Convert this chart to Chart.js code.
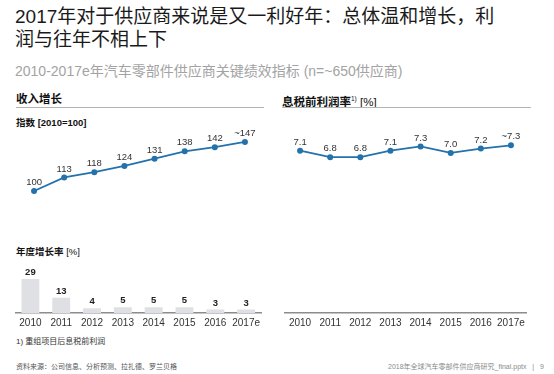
<!DOCTYPE html>
<html>
<head>
<meta charset="utf-8">
<script src="https://cdn.jsdelivr.net/npm/chart.js@4.4.1/dist/chart.umd.min.js"></script>
<style>
  body { margin: 0; background: #fff; width: 554px; height: 374px; overflow: hidden; position: relative;
         font-family: "Liberation Sans", "Noto Sans CJK SC", sans-serif; color: #222; }
  .abs { position: absolute; white-space: nowrap; }
  .title { left: 15px; top: 5px; font-size: 19px; line-height: 23px; color: #1a1a1a; }
  .subtitle { left: 15px; top: 63px; font-size: 14px; line-height: 16px; color: #a3a3a3; }
  .head { font-size: 11.5px; line-height: 14px; font-weight: bold; color: #111; }
  .rule { position: absolute; height: 0; border-top: 1.5px solid #b4b4b4; }
  .sub { font-size: 9.5px; line-height: 12px; font-weight: bold; color: #111; }
  .note { font-size: 8px; line-height: 10px; color: #333; }
  .src { font-size: 7px; line-height: 9px; color: #555; }
  canvas { position: absolute; }
</style>
</head>
<body>
<div class="abs title">2017年对于供应商来说是又一利好年：总体温和增长，利<br>润与往年不相上下</div>
<div class="abs subtitle">2010-2017e年汽车零部件供应商关键绩效指标 (n=~650供应商)</div>

<div class="abs head" style="left:16px;top:92px;">收入增长</div>
<div class="rule" style="left:16px;top:107px;width:248px;"></div>
<div class="abs sub" style="left:16px;top:117px;">指数 [2010=100]</div>
<div class="abs sub" style="left:16px;top:246px;">年度增长率 <span style="font-weight:normal">[%]</span></div>

<div class="abs head" style="left:282px;top:92px;">息税前利润率<sup style="font-size:6.5px;font-weight:normal;">1)</sup> <span style="font-weight:normal">[%]</span></div>
<div class="rule" style="left:282px;top:107px;width:249px;"></div>

<div class="abs note" style="left:16px;top:337px;">1) 重组项目后息税前利润</div>
<div class="abs src" style="left:16px;top:362px;">资料来源：公司信息、分析预测、拉扎德、罗兰贝格</div>
<div class="abs src" style="left:388px;top:362px;color:#8a8a8a;">2018年全球汽车零部件供应商研究_final.pptx&nbsp;&nbsp;&nbsp;|&nbsp;&nbsp;&nbsp;9</div>

<canvas id="revenue" style="left:15px;top:118px;" width="249" height="87"></canvas>
<canvas id="growth" style="left:15px;top:262px;" width="249" height="71"></canvas>
<canvas id="ebit" style="left:281px;top:120px;" width="249" height="213"></canvas>

<script>
const years = ['2010', '2011', '2012', '2013', '2014', '2015', '2016', '2017e'];

const revenueIndex = [100, 113, 118, 124, 131, 138, 142, 147];
const revenueLabels = ['100', '113', '118', '124', '131', '138', '142', '~147'];

const growthRate = [29, 13, 4, 5, 5, 5, 3, 3];
const growthLabels = ['29', '13', '4', '5', '5', '5', '3', '3'];

const ebitMargin = [7.1, 6.8, 6.8, 7.1, 7.3, 7.0, 7.2, 7.35];
const ebitLabels = ['7.1', '6.8', '6.8', '7.1', '7.3', '7.0', '7.2', '~7.3'];

const blue = '#2372ab';
const narrow = "'Liberation Sans Narrow', 'Liberation Sans', sans-serif";

// year axis shared by the bar chart and the ebit chart
const yearAxis = {
  offset: true,
  grid: { display: false, drawTicks: false },
  border: { display: true, color: '#8c8c8c', width: 1.5 },
  ticks: { padding: 4, color: '#333', autoSkip: false, maxRotation: 0, minRotation: 0, font: { family: narrow, size: 10 } }
};

// draws the value text above each point / bar
const valueLabels = {
  id: 'valueLabels',
  afterDatasetsDraw(chart, args, opts) {
    const ctx = chart.ctx;
    const meta = chart.getDatasetMeta(0);
    ctx.save();
    ctx.font = opts.font;
    ctx.fillStyle = opts.color;
    ctx.textAlign = 'center';
    ctx.textBaseline = 'middle';
    meta.data.forEach((el, i) => {
      ctx.fillText(opts.labels[i], el.x, el.y - opts.offset);
    });
    ctx.restore();
  }
};

const lineChart = (canvas, data, labels, min, max, xAxis) => {
  return new Chart(canvas.getContext('2d'), {
    type: 'line',
    data: {
      labels: years,
      datasets: [{
        data: data,
        borderColor: blue,
        backgroundColor: blue,
        borderWidth: 1.8,
        pointRadius: 3,
        pointBorderWidth: 0,
        tension: 0
      }]
    },
    options: {
      responsive: false,
      animation: false,
      layout: { padding: 0 },
      scales: {
        x: xAxis,
        y: { display: false, min: min, max: max }
      },
      plugins: {
        legend: { display: false },
        tooltip: { enabled: false },
        valueLabels: { labels: labels, font: '9.5px ' + narrow, color: '#333', offset: 8.5 }
      }
    },
    plugins: [valueLabels]
  });
};

lineChart(document.getElementById('revenue'), revenueIndex, revenueLabels, 90.4, 166.1, { display: false, offset: true });
lineChart(document.getElementById('ebit'), ebitMargin, ebitLabels, -0.43, 8.34, yearAxis);

new Chart(document.getElementById('growth').getContext('2d'), {
  type: 'bar',
  data: {
    labels: years,
    datasets: [{
      data: growthRate,
      backgroundColor: '#dfe0e3',
      barPercentage: 0.58,
      categoryPercentage: 1
    }]
  },
  options: {
    responsive: false,
    animation: false,
    layout: { padding: 0 },
    scales: {
      x: yearAxis,
      y: { display: false, min: 0, max: 43.6 }
    },
    plugins: {
      legend: { display: false },
      tooltip: { enabled: false },
      valueLabels: { labels: growthLabels, font: 'bold 9.5px ' + narrow, color: '#222', offset: 6.5 }
    }
  },
  plugins: [valueLabels]
});
</script>
</body>
</html>
